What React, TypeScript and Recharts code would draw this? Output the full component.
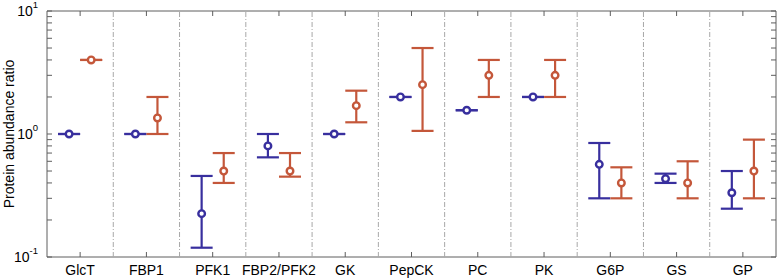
import { ScatterChart, Scatter, ErrorBar, XAxis, YAxis, ReferenceLine, ReferenceArea, Label } from "recharts";

const PROTEINS = ["GlcT", "FBP1", "PFK1", "FBP2/PFK2", "GK", "PepCK", "PC", "PK", "G6P", "GS", "GP"];

// first condition (blue)
const BLUE_MID = [1.0, 1.0, 0.225, 0.8, 1.0, 2.0, 1.56, 2.0, 0.567, 0.433, 0.333];
const BLUE_LOW = [1.0, 1.0, 0.119, 0.646, 1.0, 2.0, 1.56, 2.0, 0.3, 0.4, 0.247];
const BLUE_HIGH = [1.0, 1.0, 0.456, 1.0, 1.0, 2.0, 1.56, 2.0, 0.845, 0.476, 0.5];

// second condition (orange)
const ORANGE_MID = [4.0, 1.35, 0.5, 0.5, 1.7, 2.52, 3.0, 3.0, 0.4, 0.4, 0.5];
const ORANGE_LOW = [4.0, 1.0, 0.4, 0.45, 1.245, 1.06, 2.0, 2.0, 0.3, 0.3, 0.3];
const ORANGE_HIGH = [4.0, 2.0, 0.7, 0.7, 2.25, 5.0, 4.0, 4.0, 0.536, 0.6, 0.9];

const Y_TICKS = [0.1, 0.2, 0.3, 0.4, 0.5, 0.6, 0.7, 0.8, 0.9, 1, 2, 3, 4, 5, 6, 7, 8, 9, 10];
const Y_MAJOR: Record<string, string> = { "0.1": "-1", "1": "0", "10": "1" };

const W = 777;
const H = 278;
const MARGIN = { top: 11, right: 1, bottom: 0, left: 0 };
const Y_AXIS_W = 47;
const X_AXIS_H = 21;
const PLOT_RIGHT = W - MARGIN.right;
const PLOT_TOP = MARGIN.top;

const BLUE = "#382f9e";
const ORANGE = "#c4573a";
const AXIS = "#5e5e5e";
const SEP = "#a8a8a8";
const FONT = "'Liberation Sans', Arial, Helvetica, sans-serif";
const OFFSET = 1 / 6; // half distance between the two markers of a group

const buildRows = (mid: number[], low: number[], high: number[], shift: number) =>
  PROTEINS.map((name, i) => ({
    name,
    x: i + 0.5 + shift,
    y: mid[i],
    err: [mid[i] - low[i], high[i] - mid[i]],
  }));

const blueRows = buildRows(BLUE_MID, BLUE_LOW, BLUE_HIGH, -OFFSET);
const orangeRows = buildRows(ORANGE_MID, ORANGE_LOW, ORANGE_HIGH, OFFSET);

const xTicks = PROTEINS.map((_, i) => i + 0.5);
const separators = PROTEINS.slice(1).map((_, i) => i + 1);

function XTick(props: any) {
  const { x, y, payload } = props;
  const idx = Math.floor(payload.value);
  return (
    <g>
      <line x1={x} x2={x} y1={y} y2={y - 5} stroke={AXIS} />
      <line x1={x} x2={x} y1={PLOT_TOP} y2={PLOT_TOP + 5} stroke={AXIS} />
      <text x={x} y={y + 18} textAnchor="middle" fontSize={14} fill="#000" fontFamily={FONT}>
        {PROTEINS[idx]}
      </text>
    </g>
  );
}

function YTick(props: any) {
  const { x, y, payload } = props;
  const exp = Y_MAJOR[String(payload.value)];
  return (
    <g>
      <line x1={x} x2={x + 5} y1={y} y2={y} stroke={AXIS} />
      <line x1={PLOT_RIGHT} x2={PLOT_RIGHT - 5} y1={y} y2={y} stroke={AXIS} />
      {exp !== undefined && (
        <text x={x - 9} y={y + 5} textAnchor="end" fontSize={14} fill="#000" fontFamily={FONT}>
          10
          <tspan dy={-8} fontSize={9.5}>
            {exp}
          </tspan>
        </text>
      )}
    </g>
  );
}

const marker = (color: string) => (p: any) => (
  <circle cx={p.cx} cy={p.cy} r={3.3} fill="#fff" stroke={color} strokeWidth={2.4} />
);

export default function App() {
  return (
    <div style={{ position: "absolute", left: 0, top: 0, width: W, height: H, background: "#fff" }}>
      <ScatterChart width={W} height={H} margin={MARGIN}>
        <XAxis
          type="number"
          dataKey="x"
          domain={[0, PROTEINS.length]}
          ticks={xTicks}
          interval={0}
          allowDataOverflow
          height={X_AXIS_H}
          tickSize={0}
          tickMargin={0}
          axisLine={false}
          tick={<XTick />}
        />
        <YAxis
          type="number"
          dataKey="y"
          scale="log"
          domain={[0.1, 10]}
          ticks={Y_TICKS}
          interval={0}
          allowDataOverflow
          width={Y_AXIS_W}
          tickSize={0}
          tickMargin={0}
          axisLine={false}
          tick={<YTick />}
        >
          <Label
            content={(p: any) => {
              const vb = p.viewBox || {};
              const cy = (vb.y ?? PLOT_TOP) + (vb.height ?? 246) / 2;
              return (
                <text
                  x={9}
                  y={cy}
                  transform={`rotate(-90, 9, ${cy})`}
                  textAnchor="middle"
                  dominantBaseline="central"
                  fontSize={14}
                  fill="#000"
                  fontFamily={FONT}
                >
                  Protein abundance ratio
                </text>
              );
            }}
          />
        </YAxis>
        {separators.map((s) => (
          <ReferenceLine key={s} x={s} stroke={SEP} strokeDasharray="5 2 1 2" />
        ))}
        <ReferenceArea x1={0} x2={PROTEINS.length} y1={0.1} y2={10} fill="none" stroke={AXIS} strokeWidth={1} />
        <Scatter data={blueRows} isAnimationActive={false} shape={marker(BLUE)}>
          <ErrorBar dataKey="err" direction="y" width={11} stroke={BLUE} strokeWidth={2.2} isAnimationActive={false} />
        </Scatter>
        <Scatter data={orangeRows} isAnimationActive={false} shape={marker(ORANGE)}>
          <ErrorBar dataKey="err" direction="y" width={11} stroke={ORANGE} strokeWidth={2.2} isAnimationActive={false} />
        </Scatter>
      </ScatterChart>
    </div>
  );
}
